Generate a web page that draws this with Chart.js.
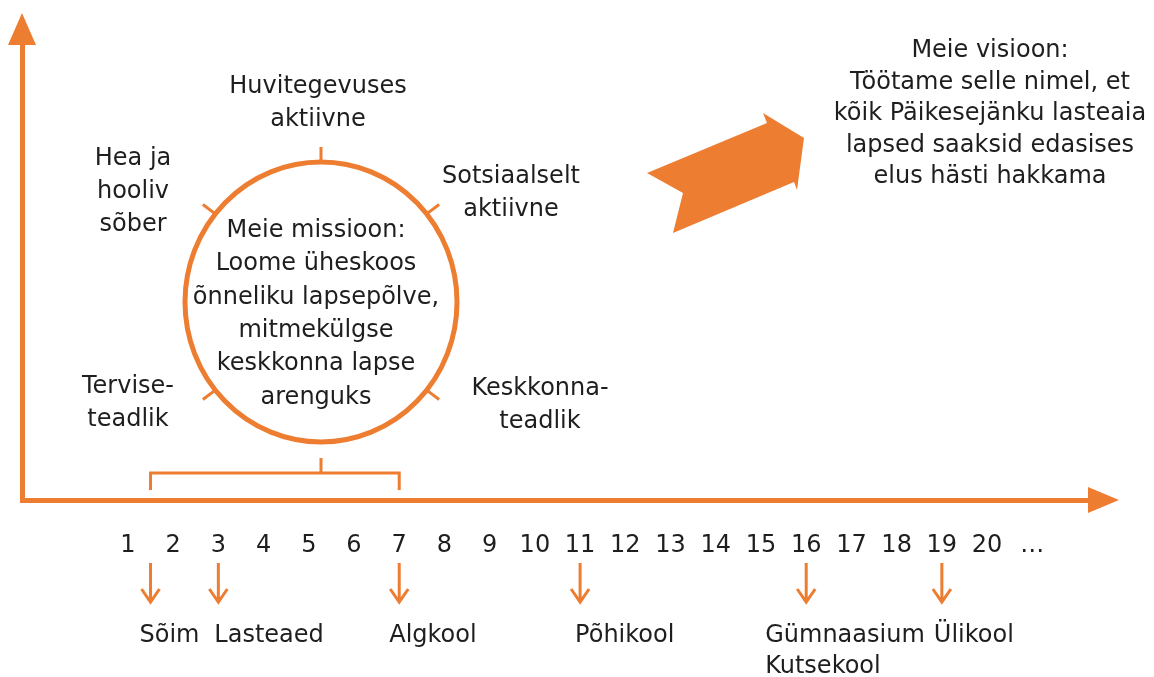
<!DOCTYPE html>
<html>
<head>
<meta charset="utf-8">
<script src="https://cdn.jsdelivr.net/npm/chart.js@4"></script>
<style>
    html, body { margin: 0; padding: 0; background: #fff; }
    #wrap { width: 1154px; height: 677px; }
</style>
</head>
<body>
<div id="wrap"><canvas id="chart" width="1154" height="677"></canvas></div>
<script>
"use strict";

// ages on the time axis, 21 is printed as "…"
const ageTicks = [1, 2, 3, 4, 5, 6, 7, 8, 9, 10, 11, 12, 13, 14, 15, 16, 17, 18, 19, 20, 21];
const moreTick = 21;

// school stages and the age they start at
const milestoneAges = [1.5, 3, 7, 11, 16, 19];
const milestoneNames = [["Sõim"], ["Lasteaed"], ["Algkool"], ["Põhikool"], ["Gümnaasium", "Kutsekool"], ["Ülikool"]];

const missionLines = ["Meie missioon:", "Loome üheskoos", "õnneliku lapsepõlve,", "mitmekülgse", "keskkonna lapse", "arenguks"];
const valueNames = [
    ["Huvitegevuses", "aktiivne"],
    ["Hea ja", "hooliv", "sõber"],
    ["Sotsiaalselt", "aktiivne"],
    ["Tervise-", "teadlik"],
    ["Keskkonna-", "teadlik"]
];
const visionLines = ["Meie visioon:", "Töötame selle nimel, et", "kõik Päikesejänku lasteaia", "lapsed saaksid edasises", "elus hästi hakkama"];

// look
const ORANGE = "#ed7d31";
const INK = "#1e1e1e";
const FAMILY = "'DejaVu Sans', Verdana, sans-serif";
const FONT = "24px " + FAMILY;

const ring = { x: 321, y: 302, rx: 136, ry: 140 };
// label anchor (centre x, first baseline) and the angle of the little tick on the ring
const valueSpots = [
    { x: 318, y: 93, angle: 90 },
    { x: 133, y: 165, angle: 141 },
    { x: 511, y: 183, angle: 39 },
    { x: 128, y: 393, angle: 219 },
    { x: 540, y: 395, angle: 321 }
];
const labelShift = [-11, -4, -10, -5, -41, -8];
const bigArrow = [[647, 173], [767, 123], [763, 113], [804, 138], [797, 190], [794, 182], [673, 233], [683, 193]];

function lines(ctx, list, x, y, step) {
    list.forEach((t, i) => ctx.fillText(t, x, y + i * step));
}

const diagram = {
    id: "diagram",
    afterDraw(chart) {
        const ctx = chart.ctx;
        const xs = chart.scales.x;
        const area = chart.chartArea;
        ctx.save();

        // axis arrow heads
        ctx.fillStyle = ORANGE;
        const ay = xs.top;
        ctx.beginPath();
        ctx.moveTo(area.right - 2, ay - 13);
        ctx.lineTo(area.right + 29, ay);
        ctx.lineTo(area.right - 2, ay + 13);
        ctx.closePath();
        ctx.fill();
        ctx.beginPath();
        ctx.moveTo(area.left - 14, area.top + 1);
        ctx.lineTo(area.left, area.top - 31);
        ctx.lineTo(area.left + 14, area.top + 1);
        ctx.closePath();
        ctx.fill();

        // mission ring
        ctx.strokeStyle = ORANGE;
        ctx.lineWidth = 5;
        ctx.beginPath();
        ctx.ellipse(ring.x, ring.y, ring.rx, ring.ry, 0, 0, Math.PI * 2);
        ctx.stroke();

        ctx.lineWidth = 3;
        valueSpots.forEach(s => {
            const a = s.angle * Math.PI / 180;
            const c = Math.cos(a), d = -Math.sin(a);
            ctx.beginPath();
            ctx.moveTo(ring.x + c * ring.rx, ring.y + d * ring.ry);
            ctx.lineTo(ring.x + c * (ring.rx + 16), ring.y + d * (ring.ry + 15));
            ctx.stroke();
        });

        // bracket: kindergarten years under the ring
        const bx1 = xs.getPixelForValue(milestoneAges[0]);
        const bx2 = xs.getPixelForValue(milestoneAges[2]);
        ctx.beginPath();
        ctx.moveTo(bx1, 490);
        ctx.lineTo(bx1, 473);
        ctx.lineTo(bx2, 473);
        ctx.lineTo(bx2, 490);
        ctx.moveTo(ring.x, 458);
        ctx.lineTo(ring.x, 473);
        ctx.stroke();

        // big arrow towards the vision
        ctx.beginPath();
        bigArrow.forEach((p, i) => i ? ctx.lineTo(p[0], p[1]) : ctx.moveTo(p[0], p[1]));
        ctx.closePath();
        ctx.fill();

        // milestone arrows + names
        ctx.font = FONT;
        ctx.textBaseline = "alphabetic";
        milestoneAges.forEach((age, i) => {
            const x = xs.getPixelForValue(age);
            ctx.strokeStyle = ORANGE;
            ctx.lineWidth = 3;
            ctx.beginPath();
            ctx.moveTo(x, 563);
            ctx.lineTo(x, 601);
            ctx.moveTo(x - 9, 589);
            ctx.lineTo(x, 602);
            ctx.lineTo(x + 9, 589);
            ctx.stroke();
            ctx.fillStyle = INK;
            ctx.textAlign = "left";
            lines(ctx, milestoneNames[i], x + labelShift[i], 642, 31);
        });

        // texts
        ctx.fillStyle = INK;
        ctx.textAlign = "center";
        lines(ctx, missionLines, 316, 237, 33.3);
        valueNames.forEach((v, i) => lines(ctx, v, valueSpots[i].x, valueSpots[i].y, 33));
        lines(ctx, visionLines, 990, 57, 31.5);

        ctx.restore();
    }
};

new Chart(document.getElementById("chart"), {
    type: "scatter",
    data: { datasets: [] },
    options: {
        responsive: false,
        animation: false,
        events: [],
        layout: { padding: { top: 44, right: 64, bottom: 0, left: 22 } },
        plugins: { legend: { display: false }, tooltip: { enabled: false } },
        scales: {
            x: {
                type: "linear",
                position: "bottom",
                min: -1.342,
                max: 22.276,
                afterBuildTicks: s => { s.ticks = ageTicks.map(v => ({ value: v })); },
                afterFit: s => { s.height = 177; },
                grid: { display: false, drawTicks: false },
                border: { display: true, color: ORANGE, width: 5 },
                ticks: {
                    autoSkip: false,
                    maxRotation: 0,
                    padding: 31,
                    color: INK,
                    font: { family: FAMILY, size: 24 },
                    callback: v => v === moreTick ? "…" : String(v)
                }
            },
            y: {
                type: "linear",
                position: "left",
                min: 0,
                max: 1,
                afterFit: s => { s.width = 0; },
                grid: { display: false, drawTicks: false },
                border: { display: true, color: ORANGE, width: 5 },
                ticks: { display: false }
            }
        }
    },
    plugins: [diagram]
});
</script>
</body>
</html>
